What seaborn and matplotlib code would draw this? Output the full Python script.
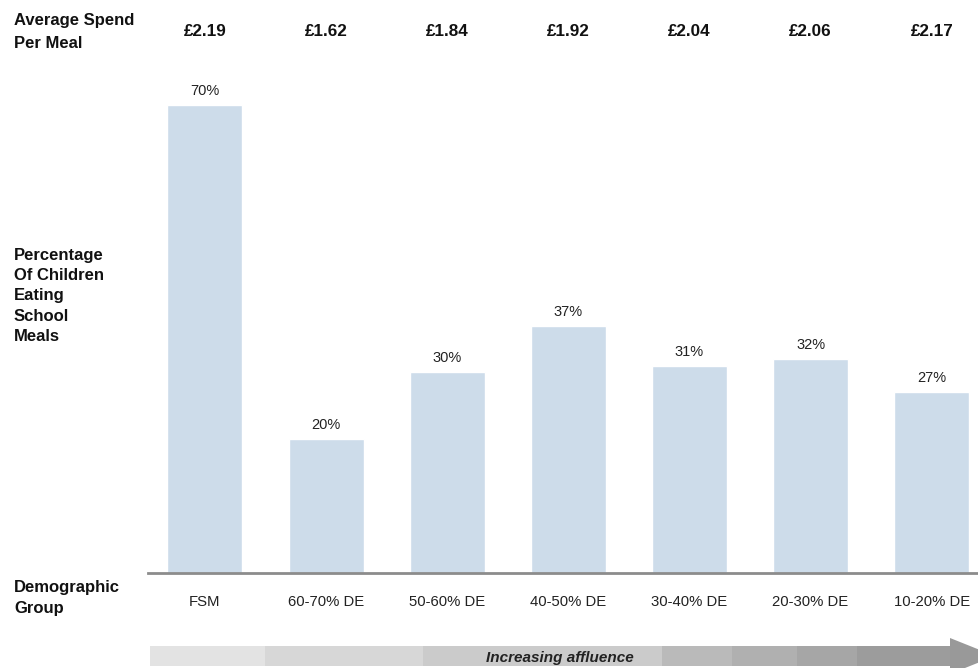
import matplotlib
matplotlib.use("Agg")
import matplotlib.pyplot as plt
import matplotlib.transforms as mtransforms
from matplotlib.patches import Rectangle, Polygon
import seaborn as sns
import pandas as pd

# data
groups = ["FSM", "60-70% DE", "50-60% DE", "40-50% DE", "30-40% DE", "20-30% DE", "10-20% DE"]
pct_eating = [70, 20, 30, 37, 31, 32, 27]
avg_spend = ["£2.19", "£1.62", "£1.84", "£1.92", "£2.04", "£2.06", "£2.17"]

df = pd.DataFrame({"group": groups, "pct": pct_eating})

sns.set_theme(style="white")
plt.rcParams["font.family"] = ["Liberation Sans", "DejaVu Sans"]

W, H = 979, 668
fig = plt.figure(figsize=(W / 100, H / 100), dpi=100)
ax = fig.add_axes([148 / W, 95 / H, 1 - 148 / W, 513 / H])

sns.barplot(data=df, x="group", y="pct", color="#cddcea", saturation=1,
            width=0.62, ax=ax)
ax.set_xlim(-0.47, 6.39)
ax.set_ylim(0, 76.7)

for c in ax.containers:
    ax.bar_label(c, labels=[f"{v}%" for v in pct_eating], padding=5,
                 fontsize=10.5, color="#222222")

for s in ["top", "right", "left"]:
    ax.spines[s].set_visible(False)
ax.spines["bottom"].set_color("#8c8c8c")
ax.spines["bottom"].set_linewidth(2)
ax.set_yticks([])
ax.set_xlabel("")
ax.set_ylabel("")
ax.tick_params(axis="x", length=0, pad=16, labelsize=10.7, labelcolor="#222222")

# spend row above the bars
trans = mtransforms.blended_transform_factory(ax.transData, fig.transFigure)
for i, sp in enumerate(avg_spend):
    ax.text(i, 1 - 32 / H, sp, transform=trans, ha="center", va="center",
            fontsize=12.3, fontweight="bold", color="#111111")

# row titles on the left
fig.text(14 / W, 1 - 32 / H, "Average Spend\nPer Meal", ha="left", va="center",
         fontsize=12, fontweight="bold", color="#111111", linespacing=1.6)
fig.text(14 / W, 1 - 296 / H, "Percentage\nOf Children\nEating\nSchool\nMeals",
         ha="left", va="center", fontsize=12, fontweight="bold",
         color="#111111", linespacing=1.45)
fig.text(14 / W, 1 - 598 / H, "Demographic\nGroup", ha="left", va="center",
         fontsize=12, fontweight="bold", color="#111111", linespacing=1.5)

# affluence arrow along the bottom
edges = [150, 265, 423, 662, 732, 797, 857, 950]
shades = ["#e3e3e3", "#d7d7d7", "#cbcbcb", "#bababa", "#b0b0b0", "#a6a6a6", "#9c9c9c"]
y0, y1 = 1 - 666 / H, 1 - 646 / H
for k in range(len(shades)):
    fig.patches.append(Rectangle((edges[k] / W, y0), (edges[k + 1] - edges[k]) / W,
                                 y1 - y0, transform=fig.transFigure,
                                 facecolor=shades[k], edgecolor="none"))
fig.patches.append(Polygon([(950 / W, 1 - 638 / H), (995 / W, 1 - 656 / H),
                            (950 / W, 1 - 674 / H)], closed=True,
                           transform=fig.transFigure, facecolor="#999999",
                           edgecolor="none"))
fig.text(560 / W, 1 - 658 / H, "Increasing affluence", ha="center", va="center",
         fontsize=11, fontweight="bold", fontstyle="italic", color="#222222")

fig.savefig("out.png", dpi=100)
